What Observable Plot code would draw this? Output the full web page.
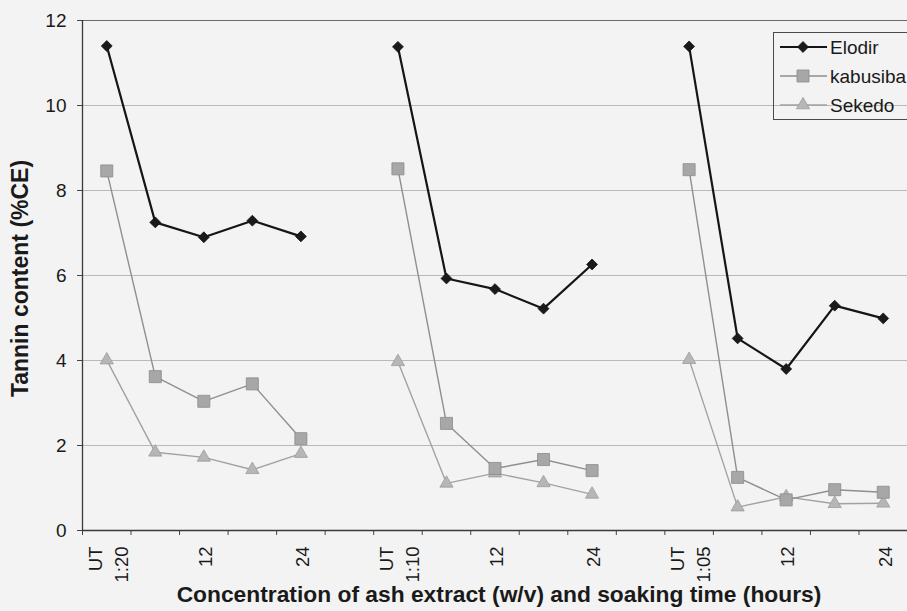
<!DOCTYPE html>
<html><head><meta charset="utf-8">
<script src="https://cdn.jsdelivr.net/npm/d3@7"></script>
<script src="https://cdn.jsdelivr.net/npm/@observablehq/plot@0.6"></script>
<style>
html,body{margin:0;padding:0;background:#f3f3f3;overflow:hidden}
#wrap{position:relative;width:907px;height:611px;overflow:hidden;font-family:"Liberation Sans",Arial,sans-serif}
#legend{position:absolute;left:773px;top:32px}
</style></head><body><div id="wrap"></div>
<script>
// ---- data ----
const categories = ["UT\n1:20","6","12","18","24","","UT\n1:10","6","12","18","24","","UT\n1:05","6","12","18","24"];
const labelShown = [1,0,1,0,1,0,1,0,1,0,1,0,1,0,1,0,1];
const seriesNames = ["Elodir","kabusiba","Sekedo"];
const elodir   = [11.40,7.25,6.90,7.29,6.92,null,11.38,5.93,5.68,5.22,6.26,null,11.39,4.52,3.80,5.29,4.99];
const kabusiba = [8.46,3.62,3.04,3.45,2.16,null,8.51,2.52,1.46,1.67,1.41,null,8.49,1.25,0.72,0.96,0.90];
const sekedo   = [4.01,1.84,1.72,1.43,1.81,null,3.97,1.11,1.35,1.12,0.85,null,4.02,0.55,0.79,0.63,0.64];
const yTicks = [0,2,4,6,8,10,12];
const yTitle = "Tannin content (%CE)";
const xTitle = "Concentration of ash extract (w/v) and soaking time (hours)";

// ---- styles ----
const styles = {
  Elodir:   {line:"#151515", width:2.2, symbol:"diamond2", r:4.9, fill:"#1a1a1a", stroke:"#111"},
  kabusiba: {line:"#8f8f8f", width:1.4, symbol:"square",   r:6.8, fill:"#a7a7a7", stroke:"#8c8c8c"},
  Sekedo:   {line:"#a2a2a2", width:1.4, symbol:"triangle", r:4.9, fill:"#b6b6b6", stroke:"#9c9c9c"}
};
const valuesBy = {Elodir: elodir, kabusiba: kabusiba, Sekedo: sekedo};
const rowsFor = name => valuesBy[name].map((v, i) => ({i, series: name, value: v}));
const labelRows = categories.map((c, i) => ({i, label: c})).filter(d => labelShown[d.i]);
const boundaries = d3.range(categories.length + 1).map(i => i - 0.5);

const seriesMarks = [];
for (const name of ["Sekedo","kabusiba","Elodir"]) {
  const s = styles[name];
  const rows = rowsFor(name);
  seriesMarks.push(Plot.line(rows, {x:"i", y:"value", stroke:s.line, strokeWidth:s.width}));
  seriesMarks.push(Plot.dot(rows.filter(d => d.value != null), {x:"i", y:"value", symbol:s.symbol, r:s.r, fill:s.fill, stroke:s.stroke, strokeWidth:0.8}));
}

const chart = Plot.plot({
  width: 907, height: 611,
  marginLeft: 82, marginRight: 0, marginTop: 20, marginBottom: 81,
  style: {fontFamily:"'Liberation Sans', Arial, sans-serif", fontSize:"19px", background:"transparent", color:"#1a1a1a"},
  x: {type:"linear", domain:[-0.5, categories.length - 0.5]},
  y: {domain:[0, 12]},
  marks: [
    Plot.gridY(yTicks.filter(v => v > 0 && v < 12), {stroke:"#b9b9b9", strokeOpacity:1, strokeWidth:1}),
    Plot.ruleY([12], {stroke:"#6a6a6a", strokeWidth:1}),
    Plot.axisY({ticks:yTicks, tickSize:5, tickPadding:11, fontSize:19, label:null, stroke:"#444"}),
    Plot.axisX({ticks:boundaries, tickFormat:() => "", tickSize:5, label:null, stroke:"#444"}),
    Plot.ruleX([-0.5], {stroke:"#3a3a3a", strokeWidth:1.3}),
    Plot.ruleY([0], {stroke:"#3a3a3a", strokeWidth:1.3}),
    Plot.text(labelRows, {x:"i", y:0, text:"label", rotate:-90, textAnchor:"end", lineAnchor:"middle", lineHeight:1.4, dy:16, fontSize:18.5, fill:"#1a1a1a"}),
    ...seriesMarks,
    Plot.text([yTitle], {frameAnchor:"left", textAnchor:"middle", rotate:-90, dx:-55, dy:3, lineAnchor:"bottom", fontSize:23, fontWeight:"bold", fill:"#1a1a1a"}),
    Plot.text([xTitle], {frameAnchor:"bottom", textAnchor:"middle", dx:4, dy:71, lineAnchor:"bottom", fontSize:22.8, fontWeight:"bold", fill:"#1a1a1a"})
  ]
});
const wrap = document.getElementById("wrap");
wrap.appendChild(chart);

// ---- legend ----
const symbolMap = {diamond2: d3.symbolDiamond2, square: d3.symbolSquare, triangle: d3.symbolTriangle};
const leg = d3.create("svg").attr("id","legend").attr("width",140).attr("height",89)
  .style("font-family","'Liberation Sans', Arial, sans-serif");
leg.append("rect").attr("x",0.5).attr("y",0.5).attr("width",160).attr("height",87)
  .attr("fill","none").attr("stroke","#4a4a4a").attr("stroke-width",1);
seriesNames.forEach((name, k) => {
  const s = styles[name];
  const y = 15 + 29 * k;
  const g = leg.append("g");
  g.append("line").attr("x1",7).attr("x2",54).attr("y1",y).attr("y2",y).attr("stroke",s.line).attr("stroke-width",s.width);
  g.append("path").attr("d", d3.symbol(symbolMap[s.symbol], s.r * s.r * Math.PI)())
    .attr("transform",`translate(30,${y})`).attr("fill",s.fill).attr("stroke",s.stroke).attr("stroke-width",0.8);
  g.append("text").attr("x",57).attr("y",y).attr("dy","0.35em").attr("font-size",19).attr("fill","#1a1a1a").text(name);
});
wrap.appendChild(leg.node());
</script>
</body></html>
